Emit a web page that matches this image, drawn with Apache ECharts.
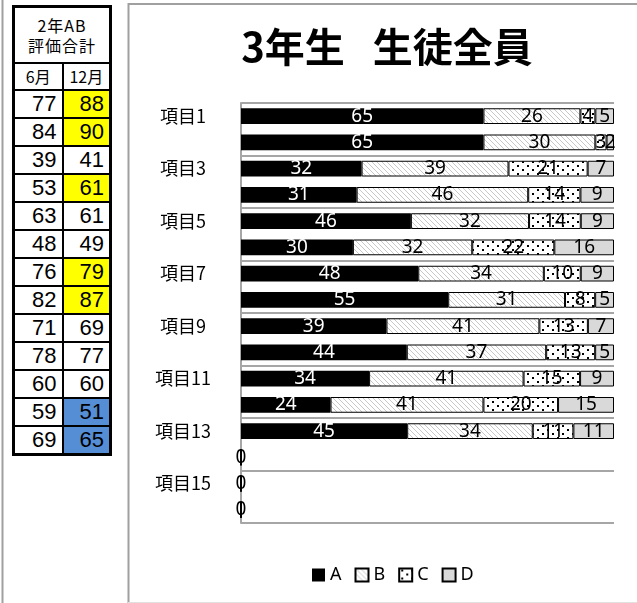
<!DOCTYPE html>
<html>
<head>
<meta charset="utf-8">
<script src="https://cdn.jsdelivr.net/npm/echarts@6.0.0/dist/echarts.min.js"></script>
<style>
  html, body { margin: 0; padding: 0; background: #fff; }
  #wrap { position: relative; width: 637px; height: 603px; overflow: hidden; }
  #chart { position: absolute; left: 0; top: 0; width: 637px; height: 603px; }
  #tbl { position: absolute; left: 12px; top: 5px; z-index: 10; border-collapse: collapse; table-layout: fixed;
         width: 97px; border: 3px solid #000; font-family: "Liberation Sans", Arial, sans-serif; background: #fff; }
  #tbl td { border: 2px solid #000; padding: 0 5px 0 0; text-align: right; font-size: 22px; height: 26px; line-height: 26px; color: #000; }
  #tbl td.head { text-align: center; font-family: "Noto Sans CJK JP", sans-serif; font-size: 16px; line-height: 20px; height: 54px; padding: 0; letter-spacing: 1px; }
  #tbl td.sub { text-align: center; font-family: "Noto Sans CJK JP", sans-serif; font-size: 16px; height: 25px; line-height: 25px; padding: 0; }
</style>
</head>
<body>
<div id="wrap">
  <div id="chart"></div>
  <table id="tbl"><colgroup><col style="width:49px"><col style="width:48px"></colgroup><tbody id="tb"></tbody></table>
</div>
<script>
// ---- data ----
const categories = ['項目1','項目2','項目3','項目4','項目5','項目6','項目7','項目8',
                    '項目9','項目10','項目11','項目12','項目13','項目14','項目15','項目16'];
const seriesNames = ['A','B','C','D'];
const valuesA = [65,65,32,31,46,30,48,55,39,44,34,24,45,0,0,0];
const valuesB = [26,30,39,46,32,32,34,31,41,37,41,41,34,0,0,0];
const valuesC = [4,3,21,14,14,22,10,8,13,13,15,20,11,0,0,0];
const valuesD = [5,2,7,9,9,16,9,5,7,5,9,15,11,0,0,0];
const titleLeft = '3年生';
const titleGap = '　';
const titleRight = '生徒全員';

const tableHeader = ['2年AB', '評価合計'];
const monthHeaders = ['6月', '12月'];
const juneTotals = [77,84,39,53,63,48,76,82,71,78,60,59,69];
const decTotals  = [88,90,41,61,61,49,79,87,69,77,60,51,65];

// ---- table ----
(function buildTable() {
  const t = document.getElementById('tb');
  let html = '<tr><td class="head" colspan="2">' + tableHeader.join('<br>') + '</td></tr>';
  html += '<tr><td class="sub">' + monthHeaders[0] + '</td><td class="sub">' + monthHeaders[1] + '</td></tr>';
  for (let i = 0; i < juneTotals.length; i++) {
    const d = decTotals[i] - juneTotals[i];
    let bg = '#fff';
    if (d >= 3) bg = '#ffff00';
    else if (d <= -3) bg = '#558ed5';
    html += '<tr><td>' + juneTotals[i] + '</td><td style="background:' + bg + '">' + decTotals[i] + '</td></tr>';
  }
  t.innerHTML = html;
})();

// ---- patterns ----
function hatchPattern() {
  const c = document.createElement('canvas');
  c.width = 5; c.height = 5;
  const g = c.getContext('2d');
  g.fillStyle = '#fff'; g.fillRect(0, 0, 5, 5);
  g.fillStyle = '#c8c8c8';
  for (let i = 0; i < 5; i++) g.fillRect(i, i, 1, 1);
  return c;
}
function dotPattern() {
  const c = document.createElement('canvas');
  c.width = 10; c.height = 8;
  const g = c.getContext('2d');
  g.fillStyle = '#fff'; g.fillRect(0, 0, 10, 8);
  g.fillStyle = '#000';
  g.fillRect(2, 1, 2, 2);
  g.fillRect(7, 5, 2, 2);
  return c;
}

// ---- build series (100% stacked) ----
const rawSets = [valuesA, valuesB, valuesC, valuesD];
const totals = categories.map((_, i) => rawSets.reduce((s, arr) => s + arr[i], 0));
const styles = [
  { color: '#000', borderColor: '#000', borderWidth: 0, labelColor: '#fff' },
  { color: { image: hatchPattern(), repeat: 'repeat' }, borderColor: '#000', borderWidth: 1, labelColor: '#000' },
  { color: { image: dotPattern(), repeat: 'repeat' }, borderColor: '#000', borderWidth: 1, labelColor: '#000' },
  { color: '#d9d9d9', borderColor: '#000', borderWidth: 1, labelColor: '#000' }
];

const series = rawSets.map((arr, si) => ({
  name: seriesNames[si],
  type: 'bar',
  stack: 'total',
  barWidth: '60%',
  itemStyle: { color: styles[si].color, borderColor: styles[si].borderColor, borderWidth: styles[si].borderWidth },
  label: {
    show: true,
    position: 'inside',
    color: styles[si].labelColor,
    fontFamily: 'Noto Sans, sans-serif',
    fontSize: 19,
    formatter: p => (p.data.raw === 0 && si > 0) ? '' : String(p.data.raw)
  },
  emphasis: { disabled: true },
  data: arr.map((v, i) => {
    const item = { value: totals[i] ? v / totals[i] * 100 : 0, raw: v };
    if (v === 0) item.label = { color: '#000' };
    return item;
  })
}));

const chart = echarts.init(document.getElementById('chart'), null, { renderer: 'canvas' });
chart.setOption({
  animation: false,
  backgroundColor: '#fff',
  title: {
    text: '{t|' + titleLeft + '}{g|' + titleGap + '}{t|' + titleRight + '}',
    left: 382,
    top: 22,
    textAlign: 'center',
    textStyle: {
      fontFamily: 'Noto Sans CJK JP, sans-serif', fontWeight: 'bold', fontSize: 40, color: '#000',
      rich: {
        t: { fontFamily: 'Noto Sans CJK JP, sans-serif', fontWeight: 'bold', fontSize: 40, color: '#000' },
        g: { fontFamily: 'Noto Sans CJK JP, sans-serif', fontSize: 28, color: '#000' }
      }
    }
  },
  legend: {
    left: 307,
    top: 561,
    icon: 'rect',
    itemWidth: 13,
    itemHeight: 13,
    itemGap: 13,
    textStyle: { fontFamily: 'Noto Sans, sans-serif', fontSize: 18, color: '#000' },
    data: seriesNames
  },
  grid: { left: 241, right: 23, top: 103, bottom: 80, containLabel: false },
  xAxis: {
    type: 'value', min: 0, max: 100, show: false
  },
  yAxis: {
    type: 'category',
    inverse: true,
    data: categories,
    axisTick: { show: false },
    axisLine: { show: true, lineStyle: { color: '#a6a6a6', width: 2 } },
    axisLabel: {
      interval: 1,
      align: 'center',
      margin: 58,
      fontFamily: 'Noto Sans CJK JP, sans-serif',
      fontSize: 18,
      color: '#000'
    },
    splitLine: { show: true, lineStyle: { color: '#a6a6a6', width: 2 } }
  },
  graphic: [
    { type: 'line', shape: { x1: 2.5, y1: 0, x2: 2.5, y2: 603 }, style: { stroke: '#a0a0a0', lineWidth: 2 }, silent: true },
    { type: 'line', shape: { x1: 128.5, y1: 3, x2: 128.5, y2: 603 }, style: { stroke: '#a0a0a0', lineWidth: 2 }, silent: true },
    { type: 'line', shape: { x1: 128, y1: 4, x2: 637, y2: 4 }, style: { stroke: '#a0a0a0', lineWidth: 2 }, silent: true },
    { type: 'line', shape: { x1: 128, y1: 602.5, x2: 637, y2: 602.5 }, style: { stroke: '#e0e0e0', lineWidth: 1 }, silent: true }
  ],
  series: series
});
</script>
</body>
</html>
